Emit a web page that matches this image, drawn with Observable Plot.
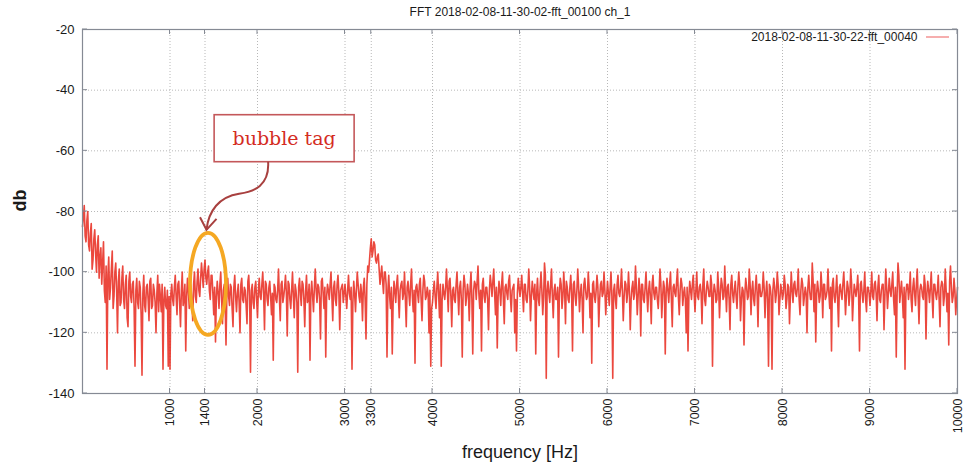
<!DOCTYPE html>
<html>
<head>
<meta charset="utf-8">
<script src="https://cdn.jsdelivr.net/npm/d3@7"></script>
<script src="https://cdn.jsdelivr.net/npm/@observablehq/plot@0.6"></script>
<style>
  html, body { margin: 0; padding: 0; background: #fff; }
  #chart { width: 963px; height: 465px; }
</style>
</head>
<body>
<div id="chart"></div>
<script>
// ---------- text ----------
const TITLE = "FFT 2018-02-08-11-30-02-fft_00100 ch_1";
const SERIES_NAME = "2018-02-08-11-30-22-fft_00040";
const X_LABEL = "frequency [Hz]";
const Y_LABEL = "db";
const NOTE = "bubble tag";

// ---------- ticks ----------
const X_TICKS = [1000, 1400, 2000, 3000, 3300, 4000, 5000, 6000, 7000, 8000, 9000, 10000];
const Y_TICKS = [-140, -120, -100, -80, -60, -40, -20];

// ---------- spectrum (dB), one value every 10 Hz ----------
const STEP_HZ = 10;
const db_0000 = [-85,-82,-78,-88,-90,-83,-80,-91,-93,-87,-84,-99,-96,-89,-86,-94,-100,-91,-88,-102,
  -95,-92,-104,-97,-90,-106,-110,-98,-132,-101,-95,-109,-105,-99,-93,-112,-108,-100,-97,-106,
  -120,-103,-99,-111,-110,-102,-98,-109,-112,-104,-101,-115,-118,-103,-100,-108,-110,-104,-103,-112,
  -131,-106,-102,-110,-112,-103,-105,-114,-134,-107,-101,-111,-113,-105,-104,-109,-116,-103,-102,-112,
  -111,-104,-106,-110,-120,-107,-101,-113,-104,-108,-113,-104,-132,-109,-105,-111,-112,-106,-131,-108];
const db_1000 = [-132,-107,-104,-109,-111,-105,-101,-108,-114,-104,-103,-110,-118,-106,-100,-111,-109,-104,-126,-108,
  -102,-106,-112,-105,-105,-110,-116,-104,-100,-108,-110,-103,-99,-106,-108,-102,-97,-101,-105,-99,
  -96,-102,-104,-100,-98,-106,-109,-101,-101,-107,-114,-105,-123,-108,-103,-107,-112,-104,-100,-109,
  -117,-106,-104,-110,-124,-107,-102,-108,-111,-104,-105,-112,-118,-105,-101,-108,-113,-107,-104,-110,
  -120,-104,-102,-109,-110,-105,-106,-111,-117,-103,-101,-108,-133,-106,-104,-110,-112,-105,-103,-109];
const db_2000 = [-115,-106,-102,-108,-109,-104,-100,-107,-119,-103,-104,-109,-111,-105,-103,-108,-114,-107,-129,-104,
  -105,-109,-110,-106,-99,-108,-116,-104,-103,-110,-108,-105,-101,-107,-121,-103,-104,-109,-112,-106,
  -100,-108,-115,-104,-106,-110,-133,-105,-102,-107,-111,-103,-104,-109,-118,-106,-101,-110,-109,-104,
  -129,-107,-103,-108,-113,-105,-99,-106,-110,-104,-105,-109,-122,-103,-102,-107,-112,-105,-128,-108,
  -104,-106,-109,-104,-100,-108,-116,-105,-103,-109,-111,-104,-101,-107,-119,-106,-105,-104,-110,-107];
const db_3000 = [-104,-108,-112,-106,-101,-107,-109,-105,-132,-110,-103,-107,-113,-106,-100,-104,-108,-110,-104,-107,
  -116,-105,-102,-109,-122,-104,-98,-100,-96,-92,-89,-95,-93,-90,-91,-96,-97,-95,-94,-99,
  -104,-101,-98,-103,-107,-100,-100,-104,-128,-106,-101,-108,-112,-105,-127,-110,-103,-106,-110,-104,
  -101,-108,-115,-106,-104,-103,-109,-107,-100,-109,-118,-105,-103,-107,-111,-104,-99,-108,-113,-106,
  -130,-105,-104,-107,-110,-104,-102,-109,-116,-106,-101,-103,-109,-108,-105,-107,-120,-106,-131,-112];
const db_4000 = [-110,-106,-103,-108,-112,-105,-100,-107,-115,-104,-131,-109,-104,-107,-109,-105,-99,-106,-113,-103,
  -102,-108,-118,-106,-105,-109,-110,-104,-100,-107,-114,-105,-103,-109,-128,-106,-101,-104,-111,-108,
  -104,-107,-116,-105,-100,-109,-127,-106,-103,-104,-109,-103,-98,-107,-112,-106,-126,-104,-102,-108,
  -110,-105,-105,-109,-119,-106,-101,-104,-108,-103,-99,-107,-114,-105,-125,-108,-103,-106,-111,-104,
  -100,-109,-117,-105,-104,-107,-109,-103,-101,-108,-113,-106,-105,-104,-120,-109,-126,-107,-102,-105];
const db_5000 = [-108,-105,-101,-107,-113,-104,-104,-109,-110,-106,-99,-105,-116,-108,-103,-106,-109,-104,-127,-107,
  -102,-109,-111,-105,-100,-106,-114,-108,-97,-101,-135,-106,-103,-107,-110,-104,-99,-108,-115,-106,
  -104,-109,-109,-105,-128,-107,-102,-104,-112,-108,-100,-106,-117,-103,-105,-109,-110,-105,-101,-107,
  -126,-104,-103,-108,-111,-106,-99,-105,-113,-107,-104,-109,-120,-104,-102,-106,-109,-108,-100,-105,
  -115,-107,-130,-104,-103,-108,-110,-106,-101,-105,-118,-109,-104,-103,-108,-107,-100,-106,-114,-108];
const db_6000 = [-103,-107,-111,-105,-100,-108,-135,-106,-104,-109,-112,-104,-101,-107,-108,-105,-99,-106,-116,-108,
  -103,-104,-110,-107,-100,-106,-119,-109,-105,-103,-109,-107,-98,-105,-114,-108,-102,-106,-121,-104,
  -104,-109,-110,-105,-100,-107,-113,-106,-103,-108,-117,-104,-101,-107,-109,-105,-105,-109,-112,-106,
  -99,-104,-115,-108,-103,-105,-127,-107,-102,-106,-110,-104,-100,-109,-118,-105,-104,-107,-108,-103,
  -99,-108,-114,-106,-102,-104,-111,-107,-105,-109,-120,-105,-126,-108,-103,-106,-109,-104,-101,-107];
const db_7000 = [-113,-106,-100,-108,-109,-105,-104,-107,-117,-104,-99,-109,-111,-106,-103,-105,-108,-108,-101,-104,
  -131,-107,-104,-106,-110,-109,-100,-105,-115,-107,-102,-104,-109,-108,-98,-106,-113,-105,-104,-109,
  -119,-104,-101,-107,-110,-106,-103,-108,-112,-105,-100,-104,-116,-109,-105,-106,-124,-107,-102,-105,
  -109,-108,-99,-104,-114,-106,-103,-109,-111,-105,-101,-107,-118,-104,-104,-108,-108,-106,-100,-105,
  -115,-107,-103,-109,-131,-104,-105,-108,-132,-106,-102,-105,-110,-107,-100,-104,-114,-109,-104,-106];
const db_8000 = [-109,-107,-101,-104,-112,-109,-104,-105,-117,-108,-100,-106,-110,-104,-103,-107,-108,-105,-99,-109,
  -114,-106,-102,-104,-111,-108,-105,-107,-120,-105,-101,-106,-109,-109,-97,-103,-113,-104,-123,-107,
  -103,-106,-110,-108,-100,-105,-115,-104,-104,-109,-108,-106,-99,-107,-112,-105,-126,-104,-102,-108,
  -110,-106,-101,-109,-118,-105,-104,-107,-109,-104,-100,-106,-114,-108,-103,-105,-111,-107,-99,-104,
  -116,-109,-104,-106,-108,-105,-101,-108,-126,-104,-103,-107,-110,-106,-100,-109,-113,-105,-105,-107];
const db_9000 = [-111,-106,-100,-108,-109,-104,-103,-107,-116,-105,-101,-109,-110,-106,-104,-104,-119,-108,-99,-105,
  -112,-107,-102,-106,-108,-104,-100,-109,-114,-105,-128,-107,-97,-101,-110,-106,-103,-108,-115,-105,
  -132,-107,-104,-104,-109,-106,-100,-109,-113,-105,-102,-107,-111,-104,-99,-108,-117,-106,-104,-105,
  -108,-109,-101,-104,-122,-107,-103,-106,-110,-105,-100,-108,-115,-104,-104,-107,-109,-106,-101,-109,
  -118,-105,-103,-104,-111,-108,-99,-106,-113,-107,-124,-103,-98,-105,-110,-108,-102,-106,-114,-109,-105];

const SEGMENTS = [
  [0, db_0000], [1000, db_1000], [2000, db_2000], [3000, db_3000], [4000, db_4000],
  [5000, db_5000], [6000, db_6000], [7000, db_7000], [8000, db_8000], [9000, db_9000]
];
const spectrum = SEGMENTS.flatMap(([start, vals]) =>
  vals.map((db, i) => ({freq: start + i * STEP_HZ, db})));

// ---------- annotation anchors (data coordinates) ----------
const HIGHLIGHT = {freq: 1440, db: -104};
const NOTE_AT = {freq: 2310, db: -56};

const LINE_COLOR = "#e8281c";
const GRID = {stroke: "#b8b8b8", strokeOpacity: 1, strokeWidth: 1, strokeDasharray: "1,2"};
const plain = d => String(d);

const chart = Plot.plot({
  width: 963,
  height: 465,
  marginLeft: 82,
  marginRight: 6,
  marginTop: 29,
  marginBottom: 72,
  x: {domain: [0, 10000]},
  y: {domain: [-140, -20]},
  style: {fontFamily: "'Liberation Sans', Arial, sans-serif", fontSize: "13px", color: "#1a1a1a", background: "#fff"},
  marks: [
    Plot.gridX(X_TICKS.slice(0, -1), GRID),
    Plot.gridY(Y_TICKS.slice(1, -1), GRID),
    Plot.line(spectrum, {x: "freq", y: "db", stroke: LINE_COLOR, strokeWidth: 1.6, strokeOpacity: 0.85}),
    Plot.frame({stroke: "#858a94", strokeWidth: 1.2}),
    Plot.axisX(X_TICKS, {tickSize: 0, tickPadding: 5, tickRotate: -90, label: null, fontSize: 12.5, tickFormat: plain}),
    Plot.axisY(Y_TICKS, {tickSize: 0, tickPadding: 8, label: null, fontSize: 13, tickFormat: plain}),
    Plot.text([X_LABEL], {frameAnchor: "bottom", lineAnchor: "middle", dy: 59, fontSize: 18}),
    Plot.text([Y_LABEL], {frameAnchor: "left", lineAnchor: "middle", dx: -62, rotate: -90, fontSize: 18, fontWeight: "bold"}),
    Plot.text([TITLE], {frameAnchor: "top", lineAnchor: "middle", dy: -17, fontSize: 12}),
    Plot.text([SERIES_NAME], {frameAnchor: "top-right", lineAnchor: "middle", dx: -40, dy: 8, textAnchor: "end", fontSize: 12})
  ]
});
document.getElementById("chart").appendChild(chart);

// ---------- extras drawn with the plot's own scales ----------
const sx = chart.scale("x"), sy = chart.scale("y");
const svg = d3.select(chart);
const [x0, x1] = sx.range, [yb, yt] = sy.range;
const g = svg.append("g");

// inward ticks (mirrored)
const TL = 5;
X_TICKS.forEach(t => {
  const x = sx.apply(t);
  g.append("line").attr("x1", x).attr("x2", x).attr("y1", yb).attr("y2", yb - TL).attr("stroke", "#858a94");
  g.append("line").attr("x1", x).attr("x2", x).attr("y1", yt).attr("y2", yt + TL).attr("stroke", "#858a94");
});
Y_TICKS.forEach(t => {
  const y = sy.apply(t);
  g.append("line").attr("x1", x0).attr("x2", x0 + TL).attr("y1", y).attr("y2", y).attr("stroke", "#858a94");
  g.append("line").attr("x1", x1).attr("x2", x1 - TL).attr("y1", y).attr("y2", y).attr("stroke", "#858a94");
});

// legend sample
const legY = yt + 8;
g.append("line").attr("x1", x1 - 31).attr("x2", x1 - 8).attr("y1", legY).attr("y2", legY)
  .attr("stroke", "#f07878").attr("stroke-width", 1.2);

// highlight ellipse
const ex = sx.apply(HIGHLIGHT.freq), ey = sy.apply(HIGHLIGHT.db);
g.append("ellipse").attr("cx", ex).attr("cy", ey).attr("rx", 18).attr("ry", 51)
  .attr("fill", "none").attr("stroke", "#f5a823").attr("stroke-width", 3.8);

// note box
const nx = sx.apply(NOTE_AT.freq), ny = sy.apply(NOTE_AT.db);
const bw = 140, bh = 47;
g.append("rect").attr("x", nx - bw / 2).attr("y", ny - bh / 2).attr("width", bw).attr("height", bh)
  .attr("fill", "#fff").attr("stroke", "#c4585a").attr("stroke-width", 1.6);
g.append("text").attr("x", nx).attr("y", ny).attr("text-anchor", "middle").attr("dy", "0.35em")
  .attr("font-family", "'DejaVu Serif', serif").attr("font-size", 19).attr("fill", "#d42c1f").text(NOTE);

// curved arrow from box to ellipse
const sX = nx - 16, sY = ny + bh / 2;
const tX = ex - 1.5, tY = ey - 54;
const arrowColor = "#a8403f";
g.append("path")
  .attr("d", `M${sX},${sY} C${sX + 1.5},${sY + 24} ${sX - 14},${sY + 30} ${sX - 29},${sY + 32} C${sX - 49},${sY + 35} ${tX + 2},${tY - 19} ${tX},${tY}`)
  .attr("fill", "none").attr("stroke", arrowColor).attr("stroke-width", 2);
g.append("path")
  .attr("d", `M${tX - 6.5},${tY - 12.5} L${tX},${tY} L${tX + 10},${tY - 11}`)
  .attr("fill", "none").attr("stroke", arrowColor).attr("stroke-width", 2);
</script>
</body>
</html>
